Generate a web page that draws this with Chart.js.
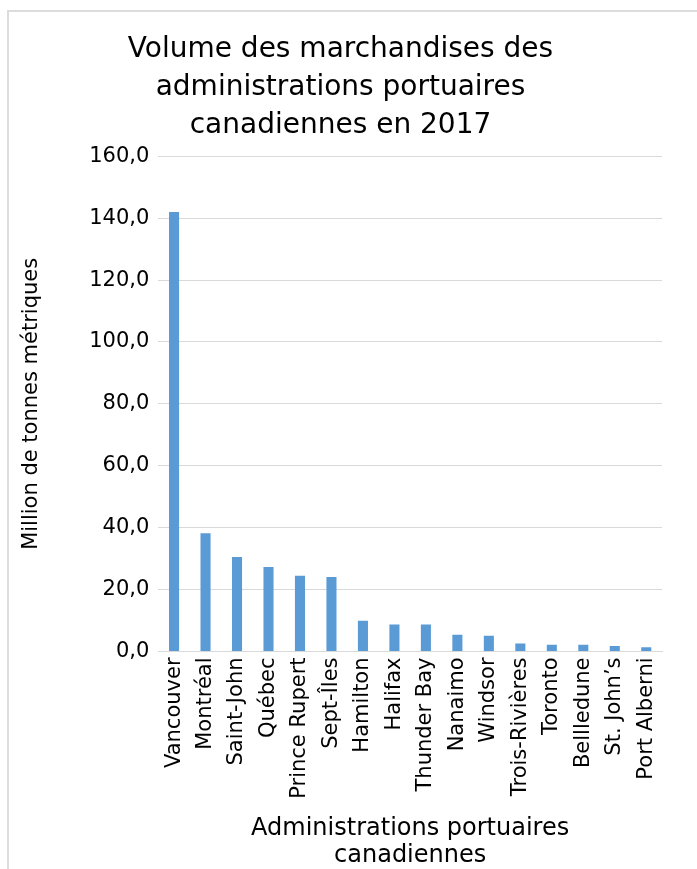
<!DOCTYPE html>
<html lang="fr">
<head>
<meta charset="utf-8">
<script src="https://cdn.jsdelivr.net/npm/chart.js@4"></script>
<style>
  html, body { margin: 0; padding: 0; background: #fff; overflow: hidden; }
  #cadre {
    position: absolute; left: 7px; top: 10px; width: 720px; height: 900px;
    border-left: 2px solid #dcdcdc; border-top: 2px solid #dcdcdc;
  }
  #graficaPuertos { position: absolute; left: 0; top: 0; }
</style>
</head>
<body>
<div id="cadre"></div>
<canvas id="graficaPuertos" width="697" height="869"></canvas>
<script>
// Données (millions de tonnes métriques)
const ports = ["Vancouver", "Montréal", "Saint-John", "Québec", "Prince Rupert", "Sept-Îles",
    "Hamilton", "Halifax", "Thunder Bay", "Nanaimo", "Windsor", "Trois-Rivières",
    "Toronto", "Bellledune", "St. John’s", "Port Alberni"];
const volumes = [142.0, 38.2, 30.5, 27.3, 24.5, 24.1, 9.9, 8.7, 8.7, 5.4, 5.1, 2.6, 2.2, 2.2, 1.8, 1.4];
const titre = ["Volume des marchandises des", "administrations portuaires", "canadiennes en 2017"];
const titreAxeY = "Million de tonnes métriques";
const titreAxeX = ["Administrations portuaires", "canadiennes"];

const police = "'DejaVu Sans', Verdana, sans-serif";

new Chart(document.getElementById("graficaPuertos"), {
    type: "bar",
    data: {
        labels: ports,
        datasets: [{
            data: volumes,
            backgroundColor: "#5b9bd5",
            barPercentage: 0.32,
            categoryPercentage: 1
        }]
    },
    options: {
        responsive: false,
        animation: false,
        layout: { padding: { left: 19, right: 35, top: 0, bottom: 0 } },
        plugins: {
            legend: { display: false },
            tooltip: { enabled: false },
            title: {
                display: true,
                text: titre,
                color: "#000",
                font: { family: police, size: 28, weight: "normal", lineHeight: 1.36 },
                padding: { top: 31, bottom: 11 }
            }
        },
        scales: {
            y: {
                min: 0,
                max: 160,
                ticks: {
                    stepSize: 20,
                    color: "#000",
                    padding: 9,
                    font: { family: police, size: 21 },
                    callback: v => v.toFixed(1).replace(".", ",")
                },
                grid: { color: "#d9d9d9", drawTicks: false },
                border: { display: false },
                title: {
                    display: true,
                    text: titreAxeY,
                    color: "#000",
                    font: { family: police, size: 21 },
                    padding: { top: 0, bottom: 36 }
                }
            },
            x: {
                ticks: {
                    color: "#000",
                    minRotation: 90,
                    maxRotation: 90,
                    padding: 6,
                    font: { family: police, size: 21 }
                },
                grid: { display: false, drawTicks: false },
                border: { color: "#d9d9d9" },
                title: {
                    display: true,
                    text: titreAxeX,
                    color: "#000",
                    font: { family: police, size: 24, lineHeight: 1.13 },
                    padding: { top: 10, bottom: 0 }
                }
            }
        }
    }
});
</script>
</body>
</html>
